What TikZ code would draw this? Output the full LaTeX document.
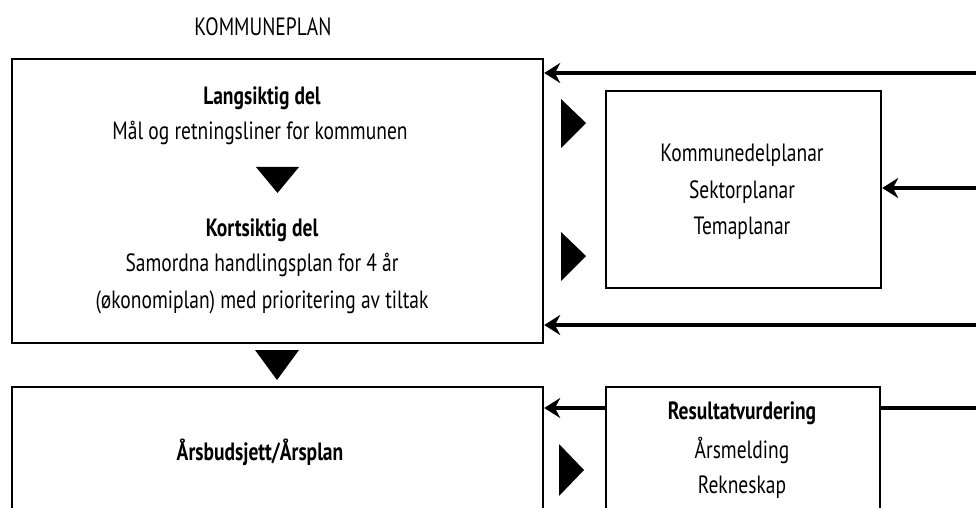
\documentclass[tikz,border=0pt]{standalone}
\usepackage{fontspec}
\setmainfont{PT Sans}[FakeStretch=0.78]
\usetikzlibrary{arrows.meta}

\begin{document}
\begin{tikzpicture}[x=0.5pt,y=-0.5pt,
    boks/.style={draw,line width=1.2pt,inner sep=0pt},
    pil/.style={line width=2pt,-{Stealth[length=8pt,width=10pt]}},
    tekst/.style={font=\fontsize{12.5}{14}\selectfont},
    feit/.style={font=\fontsize{12.5}{14}\selectfont\bfseries}]
  \useasboundingbox (0,0) rectangle (976,508);
  \clip (0,0) rectangle (976,508);

  % title
  \node[tekst] (tittel) at (263,27) {KOMMUNEPLAN};

  % boxes
  \node[boks, minimum width=265.5pt, minimum height=142pt] (plan) at (277.5,201) {};
  \node[boks, minimum width=137.5pt, minimum height=98.5pt] (delplan) at (743.5,189.5) {};
  \node[boks, minimum width=265.5pt, minimum height=80pt] (aar) at (277.5,467) {};
  \node[boks, minimum width=137pt, minimum height=80pt] (res) at (743,467) {};

  % kommuneplan text
  \node[feit] (lang) at (262,98) {Langsiktig del};
  \node[tekst] (maal) at (260,133) {Mål og retningsliner for kommunen};
  \node[feit] (kort) at (262,230) {Kortsiktig del};
  \node[tekst] (handl) at (262,265) {Samordna handlingsplan for 4 år};
  \node[tekst] (oek) at (262,302) {(økonomiplan) med prioritering av tiltak};

  % delplanar text
  \node[tekst] (kdp) at (742,155) {Kommunedelplanar};
  \node[tekst] (sek) at (742,192) {Sektorplanar};
  \node[tekst] (tema) at (742,228) {Temaplanar};

  % aarsplan and resultat text
  \node[feit] (budsj) at (260,452) {Årsbudsjett/Årsplan};
  \node[feit] (resv) at (742,413) {Resultatvurdering};
  \node[tekst] (meld) at (742,450) {Årsmelding};
  \node[tekst] (rekn) at (742,487) {Rekneskap};

  % black triangles
  \fill (256,167) -- (299,167) -- (277.5,193) -- cycle;
  \fill (255,350) -- (299,350) -- (277,380) -- cycle;
  \fill (561,99) -- (586,123) -- (561,148) -- cycle;
  \fill (561,232) -- (586,256) -- (561,281) -- cycle;
  \fill (559,444) -- (584,470) -- (559,496) -- cycle;

  % feedback lines from the right
  \coordinate (inn1) at (990,73);
  \coordinate (inn2) at (990,188);
  \coordinate (inn3) at (990,325);
  \coordinate (ut) at (990,408);
  \draw[pil] (inn1) -- (inn1 -| plan.east);
  \draw[pil] (inn2) -- (inn2 -| delplan.east);
  \draw[pil] (inn3) -- (inn3 -| plan.east);
  \draw[line width=2pt] (ut) -- (ut -| res.east);
  \draw[pil] (res.west |- ut) -- (aar.east |- ut);
\end{tikzpicture}
\end{document}
